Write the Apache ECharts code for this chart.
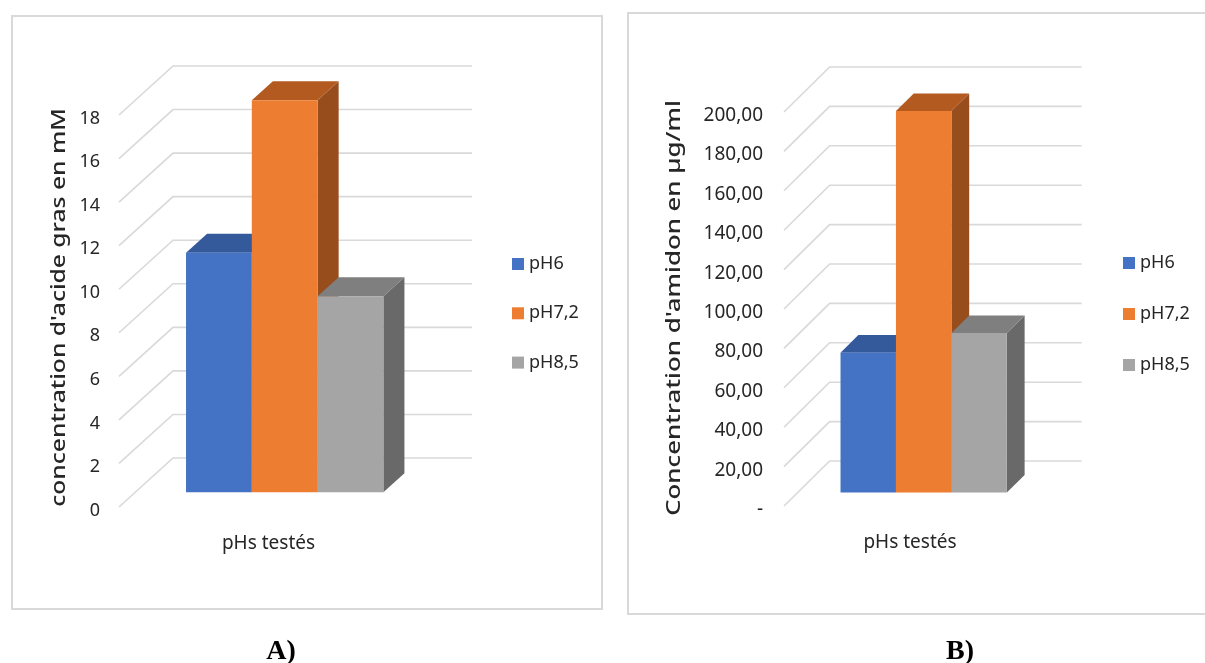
<!DOCTYPE html>
<html>
<head>
<meta charset="utf-8">
<title>pHs testés</title>
<style>
	html, body {margin:0; padding:0; background:#fff;}
	#main {width:1205px; height:663px;}
</style>
</head>
<body>
<div id="main"></div>
<script src="https://cdn.jsdelivr.net/npm/echarts@6/dist/echarts.min.js"></script>
<script>
	var categories = ['pHs testés'];
	var seriesNames = ['pH6', 'pH7,2', 'pH8,5'];
	var valuesA = [11, 18, 9];
	var valuesB = [71, 193.6, 81];
	var ticksA = [0, 2, 4, 6, 8, 10, 12, 14, 16, 18];
	var ticksB = [0, 20, 40, 60, 80, 100, 120, 140, 160, 180, 200];
	var tickLabelsB = ['-', '20,00', '40,00', '60,00', '80,00', '100,00', '120,00', '140,00', '160,00', '180,00', '200,00'];
	var titleA = "concentration d'acide gras en mM";
	var titleB = "Concentration d'amidon en µg/ml";

	// front, top, side of each bar
	var colors = [
		['#4472c4', '#355a9c', '#2f5597'],
		['#ed7d31', '#b35a20', '#974d1c'],
		['#a5a5a5', '#7f7f7f', '#696969']
	];
	var textColor = '#262626';
	var wallColor = '#d9d9d9';
	var font = '"Noto Sans"';

	var barNear = 0.3, barFar = 0.69;

	// back wall lines with the diagonal going to the front of the axis
	function wallSeries(gridIndex, ticks, depthX, depthY) {
		return {
			type: 'custom',
			name: 'walls',
			xAxisIndex: gridIndex,
			yAxisIndex: gridIndex,
			silent: true,
			clip: false,
			z: 1,
			data: ticks.map(function (t) { return [0, t]; }),
			renderItem: function (params, api) {
				var p = api.coord([0, api.value(1)]);
				var left = params.coordSys.x, right = left + params.coordSys.width;
				return {
					type: 'polyline',
					shape: {points: [[left, p[1]], [left + depthX, p[1] - depthY], [right + depthX, p[1] - depthY]]},
					style: {fill: null, stroke: wallColor, lineWidth: 1.6}
				};
			}
		};
	}

	function barSeries(gridIndex, index, value, depthX, depthY) {
		return {
			type: 'custom',
			name: seriesNames[index],
			xAxisIndex: gridIndex,
			yAxisIndex: gridIndex,
			clip: false,
			z: 2 + index,
			itemStyle: {color: colors[index][0]},
			encode: {x: 0, y: 1},
			data: [[0, value]],
			renderItem: function (params, api) {
				var top = api.coord([api.value(0), api.value(1)]);
				var base = api.coord([api.value(0), 0]);
				var w = api.size([1, 0])[0] * 0.22;
				var x0 = top[0] + (index - 1.5) * w + depthX * barNear;
				var x1 = x0 + w;
				var yTop = top[1] - depthY * barNear;
				var yBase = base[1] - depthY * barNear;
				var ox = depthX * (barFar - barNear), oy = depthY * (barFar - barNear);
				return {
					type: 'group',
					children: [
						{type: 'polygon', shape: {points: [[x1, yTop], [x1 + ox, yTop - oy], [x1 + ox, yBase - oy], [x1, yBase]]}, style: {fill: colors[index][2]}},
						{type: 'polygon', shape: {points: [[x0, yTop], [x0 + ox, yTop - oy], [x1 + ox, yTop - oy], [x1, yTop]]}, style: {fill: colors[index][1]}},
						{type: 'rect', shape: {x: x0, y: yTop, width: w, height: yBase - yTop}, style: {fill: colors[index][0]}}
					]
				};
			}
		};
	}

	function xAxis(gridIndex) {
		return {
			type: 'category',
			gridIndex: gridIndex,
			data: categories,
			axisLine: {show: false},
			axisTick: {show: false},
			axisLabel: {color: textColor, fontFamily: font, fontSize: 19, margin: 27}
		};
	}

	function yAxis(gridIndex, max, interval, labelMargin, fontSize, formatter) {
		return {
			type: 'value',
			gridIndex: gridIndex,
			min: 0,
			max: max,
			interval: interval,
			axisLine: {show: false},
			axisTick: {show: false},
			splitLine: {show: false},
			// labels sit a little under their tick in the picture
			axisLabel: {color: textColor, fontFamily: font, fontSize: fontSize, margin: labelMargin, verticalAlign: 'top', lineHeight: 7, formatter: formatter}
		};
	}

	function legend(left, top, gap) {
		return {
			left: left,
			top: top,
			orient: 'vertical',
			data: seriesNames,
			icon: 'rect',
			itemWidth: 12,
			itemHeight: 12,
			itemGap: gap,
			selectedMode: false,
			textStyle: {color: textColor, fontFamily: font, fontSize: 18, lineHeight: 20}
		};
	}

	function frame(x, y, w, h) {
		return {type: 'rect', silent: true, shape: {x: x, y: y, width: w, height: h}, style: {fill: null, stroke: wallColor, lineWidth: 2}};
	}

	// axis titles are stretched along their length in the picture
	function axisTitle(text, x, y, stretch) {
		return {
			type: 'text',
			silent: true,
			x: x,
			y: y,
			rotation: Math.PI / 2,
			scaleX: stretch,
			style: {text: text, fill: textColor, font: '500 20px ' + font, textAlign: 'center', textVerticalAlign: 'middle'}
		};
	}

	var option = {
		backgroundColor: '#fff',
		animation: false,
		title: [
			{text: 'A)', left: 276, top: 633, textAlign: 'center', textStyle: {fontFamily: '"Liberation Serif"', fontSize: 28, fontWeight: 'bold', color: '#000'}},
			{text: 'B)', left: 955, top: 633, textAlign: 'center', textStyle: {fontFamily: '"Liberation Serif"', fontSize: 28, fontWeight: 'bold', color: '#000'}}
		],
		graphic: [
			frame(12, 16, 590, 593),
			frame(628, 13, 590, 601),
			axisTitle(titleA, 59.5, 307.5, 1.23),
			axisTitle(titleB, 674, 308, 1.29)
		],
		grid: [
			{left: 119, top: 115, width: 299, height: 392},
			{left: 784, top: 112, width: 252, height: 394}
		],
		xAxis: [xAxis(0), xAxis(1)],
		yAxis: [
			yAxis(0, 18, 2, 19, 18),
			yAxis(1, 200, 20, 21, 19, function (v) { return tickLabelsB[ticksB.indexOf(v)]; })
		],
		legend: [legend(507, 249, 29.3), legend(1118, 248, 31)],
		series: [wallSeries(0, ticksA, 54, 49), wallSeries(1, ticksB, 45.6, 45)]
			.concat(valuesA.map(function (v, i) { return barSeries(0, i, v, 54, 49); }))
			.concat(valuesB.map(function (v, i) { return barSeries(1, i, v, 45.6, 45); }))
	};

	var myChart = echarts.init(document.getElementById('main'));
	myChart.setOption(option);
</script>
</body>
</html>
